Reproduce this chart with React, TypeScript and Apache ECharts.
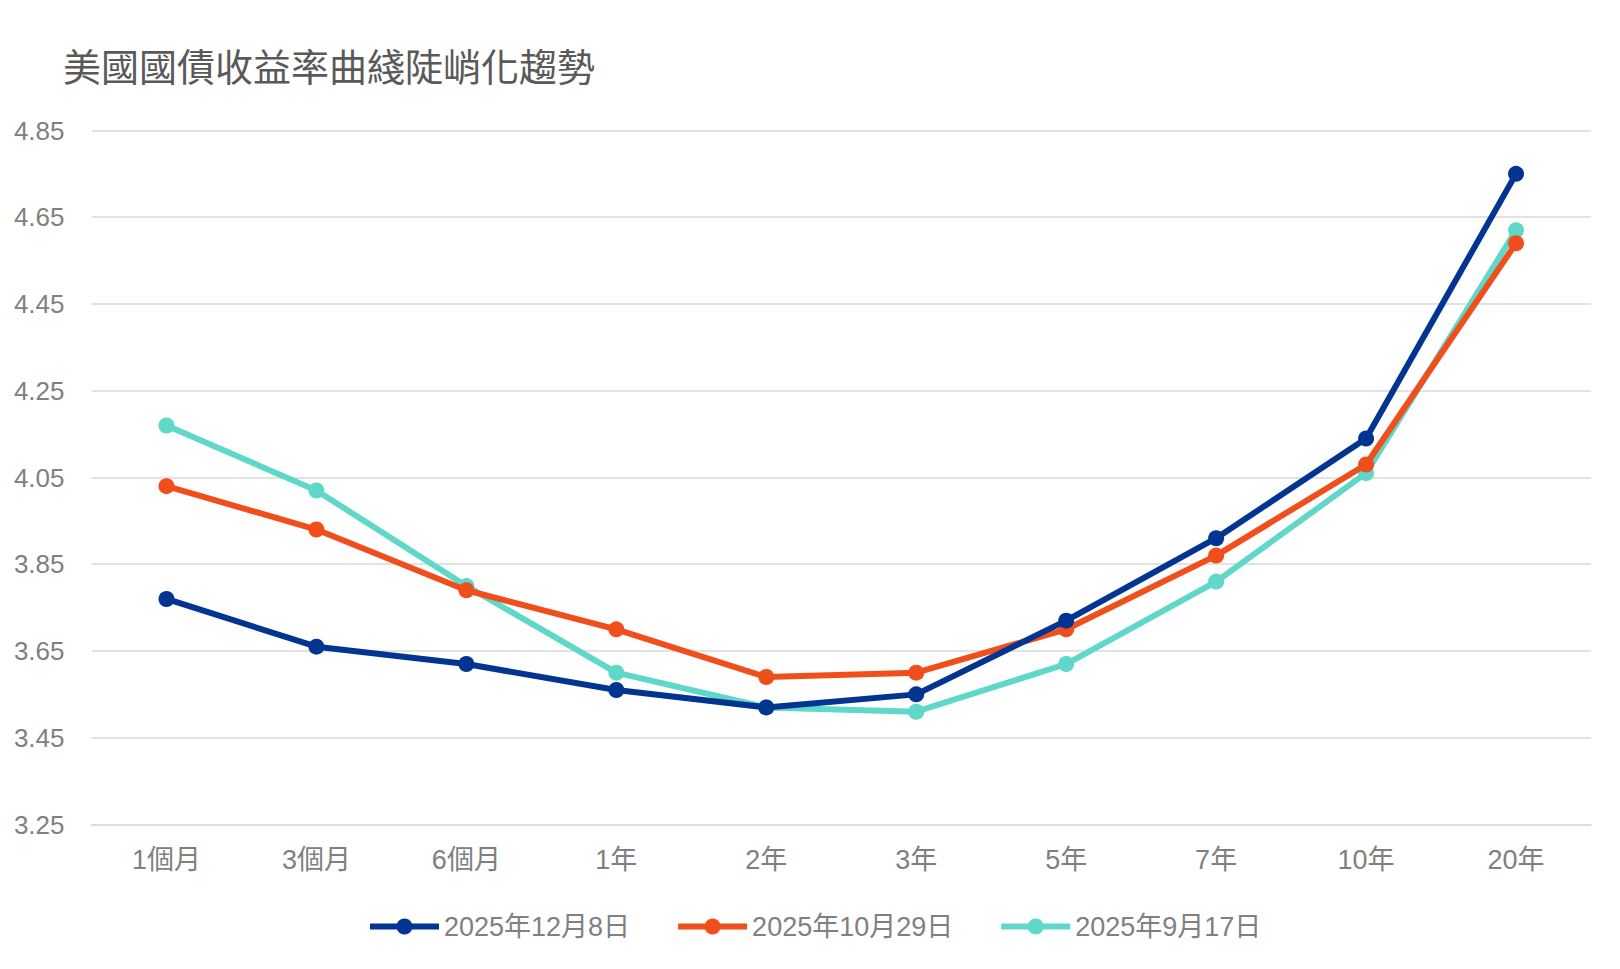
import React, { useEffect, useRef } from "react";
import * as echarts from "echarts";

const categories = ["1個月", "3個月", "6個月", "1年", "2年", "3年", "5年", "7年", "10年", "20年"];
const seriesNames = ["2025年12月8日", "2025年10月29日", "2025年9月17日"];
const dec8 = [3.77, 3.66, 3.62, 3.56, 3.52, 3.55, 3.72, 3.91, 4.14, 4.75];
const oct29 = [4.03, 3.93, 3.79, 3.70, 3.59, 3.60, 3.70, 3.87, 4.08, 4.59];
const sep17 = [4.17, 4.02, 3.80, 3.60, 3.52, 3.51, 3.62, 3.81, 4.06, 4.62];
const colors = ["#023592", "#f04e1b", "#5fd8c9"];
const yMin = 3.25;
const yMax = 4.85;
const yInterval = 0.2;

export default function App() {
  const ref = useRef<HTMLDivElement>(null);
  useEffect(() => {
    if (!ref.current) return;
    const chart = echarts.init(ref.current, null, { renderer: "svg" });
    const font = "'Liberation Sans', 'Noto Sans CJK TC', sans-serif";
    const datas = [dec8, oct29, sep17];
    chart.setOption({
      animation: false,
      backgroundColor: "#ffffff",
      title: {
        text: "美國國債收益率曲綫陡峭化趨勢",
        left: 58,
        top: 40,
        textStyle: { fontFamily: "'Noto Sans CJK TC', sans-serif", fontSize: 38, fontWeight: "normal", color: "#595959" },
      },
      legend: {
        left: 362,
        top: 908,
        itemWidth: 69,
        itemHeight: 20,
        itemGap: 45,
        lineStyle: { width: 6 },
        textStyle: { fontFamily: font, fontSize: 27, color: "#808080" },
        data: seriesNames,
      },
      grid: { left: 91.5, right: 29, top: 130.5, bottom: 144.5, containLabel: false },
      xAxis: {
        type: "category",
        data: categories,
        boundaryGap: true,
        axisLine: { show: true, lineStyle: { color: "#d9d9d9", width: 1.5 } },
        axisTick: { show: false },
        axisLabel: { fontFamily: font, fontSize: 27, color: "#808080", margin: 22 },
      },
      yAxis: {
        type: "value",
        min: yMin,
        max: yMax,
        interval: yInterval,
        axisLine: { show: false },
        axisTick: { show: false },
        splitLine: { lineStyle: { color: "#d9d9d9", width: 1.5 } },
        axisLabel: {
          fontFamily: font,
          fontSize: 26,
          color: "#808080",
          margin: 27,
          formatter: (v: number) => v.toFixed(2),
        },
      },
      series: datas.map((d, i) => ({
        name: seriesNames[i],
        type: "line",
        data: d,
        symbol: "circle",
        symbolSize: 16,
        lineStyle: { width: 6, color: colors[i] },
        itemStyle: { color: colors[i] },
        z: 10 - i,
      })),
    });
    return () => chart.dispose();
  }, []);
  return (
    <div
      ref={ref}
      style={{ position: "absolute", left: 0, top: 0, width: 1620, height: 969 }}
    />
  );
}
